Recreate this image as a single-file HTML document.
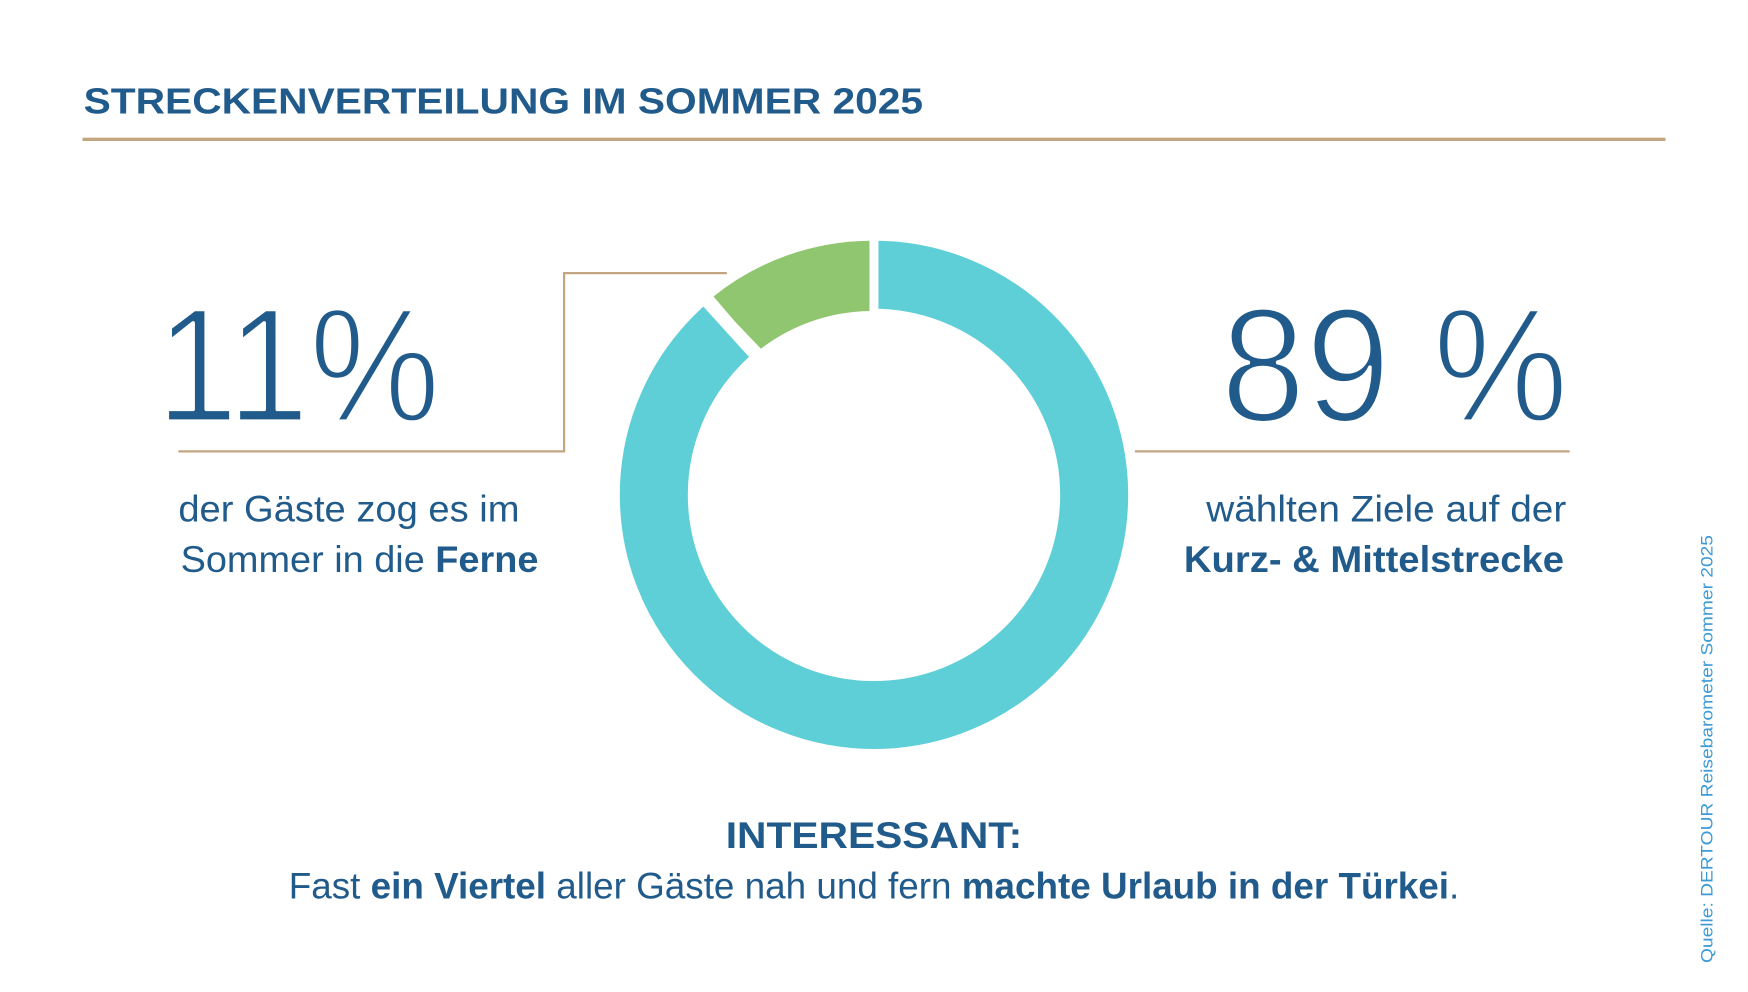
<!DOCTYPE html>
<html><head><meta charset="utf-8"><style>
html,body{margin:0;padding:0;background:#fff;}
svg{display:block;}
text{font-family:"Liberation Sans",sans-serif;fill:#215b8b;}
</style></head><body>
<svg width="1748" height="992" viewBox="0 0 1568 890" preserveAspectRatio="none" xmlns="http://www.w3.org/2000/svg">
<rect width="1568" height="890" fill="#fff"/>
<text x="75" y="102" font-size="32" font-weight="bold" textLength="753" lengthAdjust="spacingAndGlyphs">STRECKENVERTEILUNG IM SOMMER 2025</text>
<rect x="74" y="123.5" width="1420" height="3" fill="#c4a582"/>
<circle cx="784" cy="444" r="197.5" fill="none" stroke="#5ecfd6" stroke-width="61"/>
<path d="M784,444 L784,200 A244,244 0 0 0 620,263 Z" fill="#fff"/>
<path d="M780,216 L780,279 A165,165 0 0 0 681,314 L640,266 A228,228 0 0 1 780,216 Z" fill="#8fc66f"/>
<line x1="784" y1="205" x2="784" y2="285" stroke="#fff" stroke-width="8"/>
<line x1="636" y1="270" x2="682" y2="318" stroke="#fff" stroke-width="8"/>
<polyline points="160,405 506,405 506,245 652,245" fill="none" stroke="#c4a582" stroke-width="2"/>
<line x1="1018" y1="405" x2="1408" y2="405" stroke="#c4a582" stroke-width="2"/>
<text x="140" y="378" font-size="146" textLength="255" lengthAdjust="spacingAndGlyphs" stroke="#fff" stroke-width="3.5" stroke-linejoin="round">11%</text>
<text x="1095" y="378" font-size="146" textLength="312" lengthAdjust="spacingAndGlyphs" stroke="#fff" stroke-width="3.5" stroke-linejoin="round">89 %</text>
<text x="160" y="468" font-size="33" textLength="306" lengthAdjust="spacingAndGlyphs">der Gäste zog es im</text>
<text x="162" y="513" font-size="33" textLength="321" lengthAdjust="spacingAndGlyphs">Sommer in die <tspan font-weight="bold">Ferne</tspan></text>
<text x="1405" y="468" font-size="33" text-anchor="end" textLength="323" lengthAdjust="spacingAndGlyphs">wählten Ziele auf der</text>
<text x="1403" y="513" font-size="33" font-weight="bold" text-anchor="end" textLength="341" lengthAdjust="spacingAndGlyphs">Kurz- &amp; Mittelstrecke</text>
<text x="784" y="761" font-size="33" font-weight="bold" text-anchor="middle" textLength="266" lengthAdjust="spacingAndGlyphs">INTERESSANT:</text>
<text x="784" y="806" font-size="33" text-anchor="middle" textLength="1050" lengthAdjust="spacingAndGlyphs">Fast <tspan font-weight="bold">ein Viertel</tspan> aller Gäste nah und fern <tspan font-weight="bold">machte Urlaub in der Türkei</tspan>.</text>
<text transform="translate(1536,864) rotate(-90)" x="0" y="0" font-size="15" style="fill:#3c9ad6" textLength="384" lengthAdjust="spacingAndGlyphs">Quelle: DERTOUR Reisebarometer Sommer 2025</text>
</svg>
</body></html>
